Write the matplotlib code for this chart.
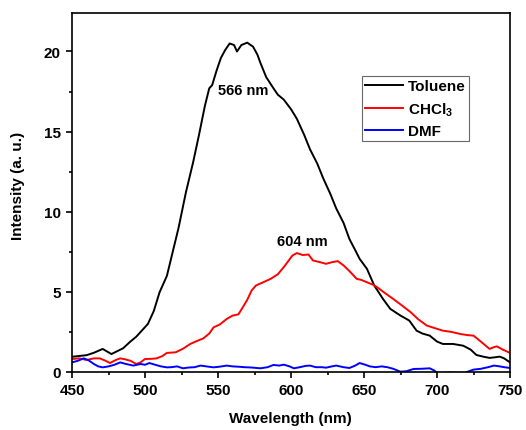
import matplotlib
matplotlib.use("Agg")
import matplotlib.pyplot as plt
from matplotlib.ticker import MultipleLocator

plt.rcParams['font.family'] = ['Liberation Sans', 'DejaVu Sans']
plt.rcParams['font.weight'] = 'bold'
plt.rcParams['mathtext.fontset'] = 'custom'
plt.rcParams['mathtext.rm'] = 'Liberation Sans:bold'
plt.rcParams['mathtext.it'] = 'Liberation Sans:bold'
plt.rcParams['mathtext.bf'] = 'Liberation Sans:bold'
plt.rcParams['mathtext.default'] = 'rm'

# ---- data ----
tol_wl = [450, 455, 460, 465, 471, 477, 481, 485, 490, 494, 498, 502, 506, 510, 515,
          519, 523, 528, 533, 537, 541, 544, 546, 549, 552, 555, 558, 561, 563, 566,
          570, 574, 577, 579, 583, 588, 591, 595, 600, 604, 609, 613, 618, 622, 627,
          631, 636, 640, 644, 647, 652, 657, 663, 668, 675, 681, 686, 690, 695, 700,
          704, 711, 718, 723, 727, 732, 736, 740, 743, 746, 750]
tol_int = [0.95, 1.0, 1.05, 1.2, 1.44, 1.12, 1.3, 1.48, 1.9, 2.2, 2.6, 3.0, 3.8, 4.98, 6.0,
           7.5, 9.0, 11.2, 13.1, 14.8, 16.6, 17.7, 17.9, 18.8, 19.6, 20.1, 20.5, 20.4, 20.0, 20.4,
           20.55, 20.3, 19.8, 19.3, 18.4, 17.7, 17.3, 17.0, 16.4, 15.8, 14.8, 13.9, 13.0, 12.1, 11.1,
           10.2, 9.3, 8.3, 7.6, 7.06, 6.44, 5.4, 4.56, 3.94, 3.52, 3.21, 2.58, 2.4, 2.27, 1.9,
           1.75, 1.75, 1.64, 1.4, 1.06, 0.95, 0.88, 0.92, 0.96, 0.85, 0.6]

chcl3_wl = [450, 455, 460, 465, 469, 473, 476, 480, 483, 486, 490, 494, 497, 500, 504,
            508, 512, 515, 521, 526, 531, 536, 540, 544, 547, 551, 556, 560, 564, 567,
            570, 573, 576, 581, 586, 591, 595, 598, 601, 604, 608, 612, 615, 620, 624,
            628, 632, 636, 640, 645, 648, 652, 656, 659, 664, 670, 676, 682, 687, 693,
            698, 704, 710, 716, 721, 725, 730, 736, 739, 741, 745, 750]
chcl3_int = [0.81, 0.85, 0.75, 0.85, 0.85, 0.7, 0.56, 0.75, 0.85, 0.8, 0.7, 0.5, 0.6, 0.81, 0.82,
             0.85, 1.0, 1.19, 1.23, 1.45, 1.75, 1.95, 2.1, 2.4, 2.79, 2.95, 3.31, 3.52, 3.6, 4.04,
             4.5, 5.08, 5.4, 5.6, 5.81, 6.1, 6.54, 6.9, 7.27, 7.42, 7.3, 7.33, 6.96, 6.85, 6.75,
             6.85, 6.92, 6.65, 6.3, 5.81, 5.75, 5.6, 5.45, 5.29, 4.95, 4.56, 4.15, 3.73, 3.3, 2.9,
             2.75, 2.58, 2.5, 2.37, 2.3, 2.27, 1.9, 1.44, 1.55, 1.6, 1.4, 1.19]

dmf_wl = [450, 454, 458, 461, 465, 468, 471, 475, 479, 483, 487, 492, 497, 500, 503,
          507, 511, 515, 518, 522, 526, 530, 534, 538, 542, 547, 551, 556, 560, 564,
          568, 573, 579, 584, 588, 592, 595, 599, 602, 606, 610, 613, 617, 621, 624,
          628, 631, 636, 640, 644, 647, 651, 654, 658, 662, 666, 670, 675, 679, 684,
          689, 695, 698, 700, 705, 709, 714, 719, 722, 725, 730, 735, 739, 743, 746, 750]
dmf_int = [0.6, 0.7, 0.85, 0.75, 0.5, 0.35, 0.29, 0.35, 0.45, 0.6, 0.5, 0.4, 0.5, 0.45, 0.56,
           0.45, 0.35, 0.29, 0.3, 0.35, 0.23, 0.28, 0.3, 0.4, 0.35, 0.29, 0.33, 0.4, 0.35, 0.33,
           0.3, 0.28, 0.23, 0.3, 0.44, 0.4, 0.46, 0.35, 0.23, 0.3, 0.38, 0.4, 0.3, 0.3, 0.27,
           0.35, 0.4, 0.3, 0.25, 0.4, 0.56, 0.45, 0.35, 0.3, 0.35, 0.3, 0.2, 0.02, 0.05, 0.19,
           0.2, 0.23, 0.1, -0.05, -0.05, -0.03, -0.05, -0.05, 0.05, 0.15, 0.2, 0.3, 0.4, 0.35, 0.3, 0.25]

labels = ['Toluene', 'CHCl$_3$', 'DMF']
colors = ['black', 'red', 'blue']
peak_labels = ['566 nm', '604 nm']
peak_pos = [(567.5, 17.6), (608, 8.2)]

fig = plt.figure(figsize=(5.26, 4.31), dpi=100)
ax = fig.add_axes([72/526, 58/431, 438/526, 359/431])

for wl, it, lab, c in zip([tol_wl, chcl3_wl, dmf_wl], [tol_int, chcl3_int, dmf_int], labels, colors):
    ax.plot(wl, it, color=c, lw=1.4, label=lab)

for txt, (x, y) in zip(peak_labels, peak_pos):
    ax.text(x, y, txt, ha='center', va='center', fontsize=10.5, fontweight='bold')

ax.set_xlim(450, 750)
ax.set_ylim(0, 22.4)
ax.xaxis.set_major_locator(MultipleLocator(50))
ax.xaxis.set_minor_locator(MultipleLocator(25))
ax.yaxis.set_major_locator(MultipleLocator(5))
ax.yaxis.set_minor_locator(MultipleLocator(2.5))
ax.tick_params(which='both', direction='out', top=False, right=False, width=1.2)
ax.tick_params(which='major', length=4, labelsize=11, pad=4)
ax.tick_params(which='minor', length=2.5)
for lab in ax.get_xticklabels() + ax.get_yticklabels():
    lab.set_fontweight('bold')
for sp in ax.spines.values():
    sp.set_linewidth(1.2)

fig.text(290/526, 12/431, 'Wavelength (nm)', ha='center', va='center', fontsize=11, fontweight='bold')
fig.text(18/526, (431-186)/431, 'Intensity (a. u.)', ha='center', va='center', rotation=90,
         fontsize=11, fontweight='bold')

leg = ax.legend(loc='upper left', bbox_to_anchor=(0.662, 0.824), fontsize=11, frameon=True,
                fancybox=False, edgecolor='#444444', handlelength=2.5, handletextpad=0.3,
                labelspacing=0.45, borderpad=0.2, borderaxespad=0)
leg.get_frame().set_linewidth(0.8)
for t in leg.get_texts():
    t.set_fontweight('bold')

fig.savefig('out.png', dpi=100)
